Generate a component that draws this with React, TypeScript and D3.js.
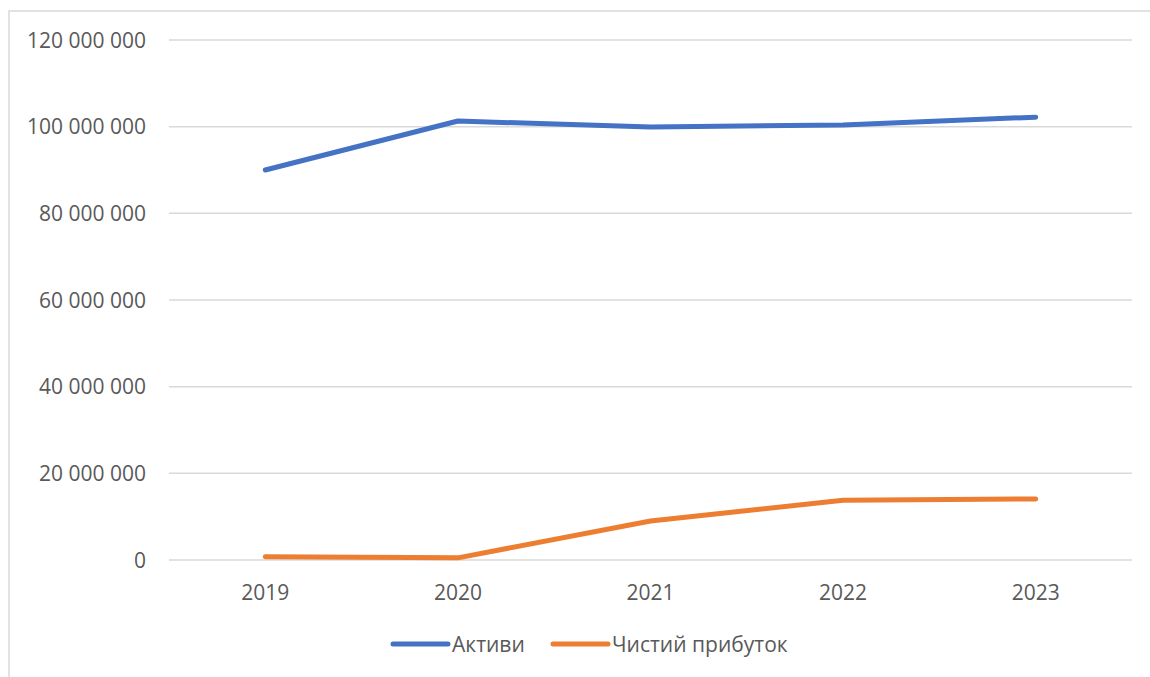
import React from "react";
import * as d3 from "d3";

const years = ["2019", "2020", "2021", "2022", "2023"];
const assets = [90000000, 101300000, 99900000, 100400000, 102200000];
const netProfit = [770000, 500000, 9000000, 13800000, 14100000];
const yTicks = [0, 20000000, 40000000, 60000000, 80000000, 100000000, 120000000];
const seriesNames = ["Активи", "Чистий прибуток"];
const colors = ["#4472C4", "#ED7D31"];

const W = 1150;
const H = 677;
const left = 169;
const right = 1132;
const top = 40;
const bottom = 560;

export default function App() {
  const x = d3.scaleBand<string>().domain(years).range([left, right]);
  const y = d3.scaleLinear().domain([0, 120000000]).range([bottom, top]);
  const fmt = (v: number) => d3.format(",")(v).replace(/,/g, " ");
  const line = d3
    .line<number>()
    .x((_, i) => (x(years[i]) as number) + x.bandwidth() / 2)
    .y((d) => y(d));
  const series = [assets, netProfit];
  const font = "'Open Sans', sans-serif";
  const textColor = "#595959";
  const legendX = [393, 553];
  return (
    <svg
      width={W}
      height={H}
      style={{ position: "absolute", left: 0, top: 0, background: "#fff" }}
      fontFamily={font}
    >
      <rect x={9} y={11} width={1160} height={700} fill="#fff" stroke="#d9d9d9" strokeWidth={1.5} />
      {yTicks.map((t) => (
        <g key={t}>
          <line x1={left} x2={right} y1={y(t)} y2={y(t)} stroke="#d9d9d9" strokeWidth={1.5} />
          <text x={146} y={y(t)} dy="0.36em" textAnchor="end" fontSize={21} fill={textColor}>
            {fmt(t)}
          </text>
        </g>
      ))}
      {years.map((yr) => (
        <text
          key={yr}
          x={(x(yr) as number) + x.bandwidth() / 2}
          y={592}
          dy="0.36em"
          textAnchor="middle"
          fontSize={21}
          fill={textColor}
        >
          {yr}
        </text>
      ))}
      {series.map((s, i) => (
        <path
          key={i}
          d={line(s) || ""}
          fill="none"
          stroke={colors[i]}
          strokeWidth={5}
          strokeLinecap="round"
          strokeLinejoin="round"
        />
      ))}
      {seriesNames.map((n, i) => (
        <g key={n}>
          <line
            x1={legendX[i]}
            x2={legendX[i] + 55}
            y1={644}
            y2={644}
            stroke={colors[i]}
            strokeWidth={5}
            strokeLinecap="round"
          />
          <text x={legendX[i] + 59} y={644} dy="0.36em" fontSize={21} fill={textColor}>
            {n}
          </text>
        </g>
      ))}
    </svg>
  );
}
